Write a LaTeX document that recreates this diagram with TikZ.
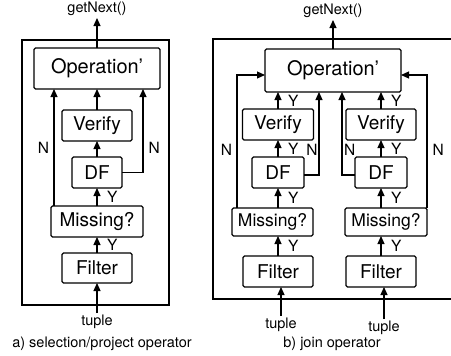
\documentclass[tikz,border=0pt]{standalone}
\usepackage{fontspec}
\setmainfont{TeX Gyre Heros}
\usetikzlibrary{arrows.meta, positioning}

\begin{document}
\begin{tikzpicture}[x=1pt, y=-1pt, line width=1.2pt,
    stage/.style={rectangle, rounded corners=1.5pt, draw, line width=1.2pt, inner sep=0pt, outer sep=0pt,
      minimum width=70pt, minimum height=31pt, font=\fontsize{19}{21}\selectfont},
    bigstage/.style={stage, font=\fontsize{20}{22}\selectfont},
    flow/.style={-{Triangle[length=8pt, width=7pt]}, line width=1.2pt},
    branch/.style={font=\fontsize{15.5}{17}\selectfont, inner sep=0pt, outer sep=0pt},
    port/.style={font=\fontsize{14.5}{17}\selectfont, inner sep=2pt, outer sep=0pt}]

    \useasboundingbox (0,0) rectangle (451,356);

    \draw (22,40) rectangle (169,305);
    \node (filterA) [stage, minimum height=30pt] at (97,268) {Filter};
    \node (missA) [stage, minimum width=92pt, above=16pt of filterA] {Missing?};
    \node (dfA) [stage, minimum width=50pt, above=18pt of missA] {DF};
    \node (verifyA) [stage, above=16pt of dfA] {Verify};
    \node (opA) [bigstage, minimum width=126pt, minimum height=41pt, above=21pt of verifyA] {Operation’};
    \node (nextA) [port, above=30pt of opA] {getNext()};
    \node (tupleA) [port, below=30pt of filterA] {tuple};
    \node (capA) [port] at (102,344) {a) selection/project operator};

    \draw[flow] (opA) -- (nextA);
    \draw[flow] (tupleA) -- (filterA);
    \draw[flow] (filterA) -- node[branch, right=10pt] {Y} (missA);
    \draw[flow] (missA) -- node[branch, right=10pt] {Y} (dfA);
    \draw[flow] (dfA) -- (verifyA);
    \draw[flow] (verifyA) -- (verifyA |- opA.south);
    \draw[flow] ([xshift=3pt]missA.north west) -- node[branch, left=5pt] {N} ([xshift=3pt]missA.north west |- opA.south);
    \draw[flow] (dfA.east) -| node[branch, right=5.6pt, pos=0.65] {N} (missA.east |- opA.south);

    \draw (452,39) -- (213,39) -- (213,299) -- (452,299);
    \node (opB) [bigstage, minimum width=136pt, minimum height=43pt] at (333,70.5) {Operation’};
    \node (filterL) [stage] at (278,271.5) {Filter};
    \node (missL) [stage, minimum width=81pt, minimum height=28pt, font=\fontsize{17.5}{20}\selectfont,
      above=20pt of filterL, xshift=-5.5pt] {Missing?};
    \node (dfL) [stage, minimum width=52pt, above=20pt of missL, xshift=5.5pt] {DF};
    \node (verifyL) [stage, minimum width=71pt, above=17pt of dfL] {Verify};
    \node (filterR) [stage] at (381,271.5) {Filter};
    \node (missR) [stage, minimum width=82pt, minimum height=28pt, font=\fontsize{17.5}{20}\selectfont,
      above=20pt of filterR, xshift=5pt] {Missing?};
    \node (dfR) [stage, minimum width=52pt, above=20pt of missR, xshift=-5pt] {DF};
    \node (verifyR) [stage, above=17pt of dfR] {Verify};
    \node (nextB) [port, above=29pt of opB] {getNext()};
    \node (tupleL) [port, below=29pt of filterL, xshift=3pt] {tuple};
    \node (tupleR) [port, below=32pt of filterR, xshift=3pt] {tuple};
    \node (capB) [port] at (332,344) {b) join operator};

    \draw[flow] (opB) -- (nextB);
    \draw[flow] (tupleL) -- (tupleL |- filterL.south);
    \draw[flow] (tupleR) -- (tupleR |- filterR.south);
    \draw[flow] (filterL) -- node[branch, right=10pt] {Y} (filterL |- missL.south);
    \draw[flow] (filterR) -- node[branch, right=10pt] {Y} (filterR |- missR.south);
    \draw[flow] (missL.north -| dfL) -- node[branch, right=10pt] {Y} (dfL);
    \draw[flow] (missR.north -| dfR) -- node[branch, right=10pt] {Y} (dfR);
    \draw[flow] (dfL) -- node[branch, right=10pt] {Y} (verifyL);
    \draw[flow] (dfR) -- node[branch, right=10pt] {Y} (verifyR);
    \draw[flow] (verifyL) -- node[branch, right=10pt] {Y} (verifyL |- opB.south);
    \draw[flow] (verifyR) -- node[branch, right=10pt] {Y} (verifyR |- opB.south);
    \draw[flow] ([xshift=5pt]missL.north west) |- node[branch, left=5pt, pos=0.22] {N} ([yshift=-4.5pt]opB.west);
    \draw[flow] ([yshift=-2.5pt]dfL.east) -| node[branch, left=1.5pt, pos=0.65] {N} ([xshift=54pt]opB.south west);
    \draw[flow] ([yshift=-2.5pt]dfR.west) -| node[branch, right=2pt, pos=0.65] {N} ([xshift=77pt]opB.south west);
    \draw[flow] (missR.north east) |- node[branch, right=5.6pt, pos=0.22] {N} ([yshift=-4.5pt]opB.east);
\end{tikzpicture}
\end{document}
